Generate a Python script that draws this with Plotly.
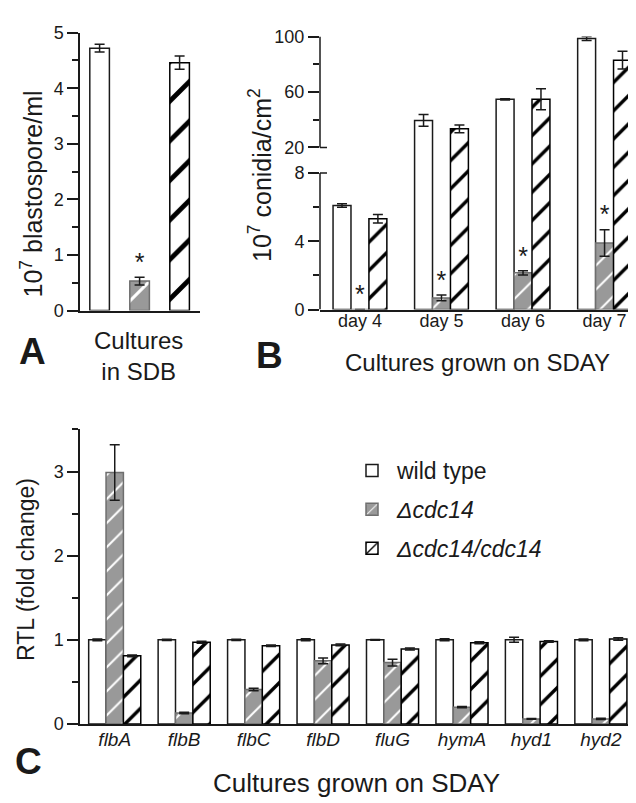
import plotly.graph_objects as go

FONT = "Arial, Liberation Sans, sans-serif"
INK = "#1a1a1a"
W, H = 636, 803

# Panel A: blastospores in SDB (x10^7 / ml)
a_strains = ["wild type", "Δcdc14", "Δcdc14/cdc14"]
a_mean = [4.72, 0.53, 4.46]
a_err = [0.07, 0.07, 0.12]
a_sig = [False, True, False]

# Panel B: conidia on SDAY (x10^7 / cm2), broken y axis 8 -> 20
b_days = ["day 4", "day 5", "day 6", "day 7"]
b_wt = [6.1, 39.5, 54.7, 98.6]
b_wt_err = [0.1, 4.3, 0.4, 1.4]
b_del = [0.0, 0.68, 2.15, 3.9]
b_del_err = [0.0, 0.17, 0.12, 0.78]
b_comp = [5.32, 33.4, 54.7, 82.9]
b_comp_err = [0.25, 2.8, 7.6, 6.4]
b_sig = [True, True, True, True]
b_ticks = [0, 4, 8, 20, 60, 100]
b_minor = [2, 6, 40, 80]

# Panel C: relative transcript levels
c_genes = ["flbA", "flbB", "flbC", "flbD", "fluG", "hymA", "hyd1", "hyd2"]
c_wt = [1.0, 1.0, 1.0, 1.0, 1.0, 1.0, 1.0, 1.0]
c_wt_err = [0.01, 0.008, 0.008, 0.012, 0.005, 0.012, 0.03, 0.01]
c_del = [2.99, 0.13, 0.41, 0.75, 0.73, 0.20, 0.06, 0.06]
c_del_err = [0.33, 0.01, 0.015, 0.035, 0.04, 0.008, 0.005, 0.008]
c_comp = [0.81, 0.97, 0.93, 0.94, 0.89, 0.965, 0.98, 1.01]
c_comp_err = [0.01, 0.012, 0.008, 0.01, 0.012, 0.012, 0.008, 0.015]

LEGEND_NAMES = ["wild type", "<i>Δcdc14</i>", "<i>Δcdc14/cdc14</i>"]

# broken axis for panel B: 0-8 linear, then 20-100 compressed
LOW_TOP, UP_START, UP_SCALE = 8.0, 9.5, 6.5 / 80.0


def brk(v):
    return v if v <= LOW_TOP else UP_START + (v - 20.0) * UP_SCALE


def brk_err(v, e):
    return e if v <= LOW_TOP else e * UP_SCALE


def style(kind, size):
    if kind == 0:
        return dict(color="white", opacity=1, line=dict(color=INK, width=1.5))
    if kind == 1:
        return dict(color="#999999", opacity=1, line=dict(color="#6e6e6e", width=1.5),
                    pattern=dict(shape="/", fgcolor="#ffffff", bgcolor="#999999",
                                 fgopacity=1, size=size - 3, solidity=0.12))
    return dict(color="white", opacity=1, line=dict(color="#000000", width=1.5),
                pattern=dict(shape="/", fgcolor="#000000", bgcolor="#ffffff",
                             fgopacity=1, size=size, solidity=0.17))


def bars(x, y, err, kind, width, offset, ax, size, legend=False):
    return go.Bar(
        x=x, y=y, width=width, offset=offset,
        xaxis="x" + ax, yaxis="y" + ax,
        name=LEGEND_NAMES[kind], legendgroup=str(kind), showlegend=legend,
        marker=style(kind, size),
        error_y=dict(type="data", array=err, visible=True, color=INK,
                     thickness=1.5, width=5),
        hoverinfo="skip",
    )


def stars(x, tops, flags, ax):
    xs = [xi for xi, f in zip(x, flags) if f]
    ys = [t for t, f in zip(tops, flags) if f]
    return go.Scatter(x=xs, y=ys, mode="text", text=["*"] * len(xs),
                      textposition="top center", textfont=dict(size=25, color=INK),
                      xaxis="x" + ax, yaxis="y" + ax, showlegend=False, hoverinfo="skip")


fig = go.Figure()

# ---- A
for i in range(3):
    fig.add_trace(bars([i], [a_mean[i]], [a_err[i]], i, 0.49, -0.245, "", 28))
fig.add_trace(stars([0, 1, 2], [m + e for m, e in zip(a_mean, a_err)], a_sig, ""))

# ---- B
bx = list(range(len(b_days)))
b_series = [(b_wt, b_wt_err), (b_del, b_del_err), (b_comp, b_comp_err)]
for k, (vals, errs) in enumerate(b_series):
    fig.add_trace(bars(bx, [brk(v) for v in vals],
                       [brk_err(v, e) for v, e in zip(vals, errs)],
                       k, 0.22, -0.33 + 0.22 * k, "2", 20))
fig.add_trace(stars(bx, [brk(v) + brk_err(v, e) for v, e in zip(b_del, b_del_err)],
                    b_sig, "2"))

# ---- C
cx = list(range(len(c_genes)))
c_series = [(c_wt, c_wt_err), (c_del, c_del_err), (c_comp, c_comp_err)]
for k, (vals, errs) in enumerate(c_series):
    fig.add_trace(bars(cx, vals, errs, k, 0.25, -0.375 + 0.25 * k, "3", 20, legend=True))

axis_common = dict(showline=True, linecolor=INK, linewidth=1.5, showgrid=False,
                   zeroline=False, tickcolor=INK, tickwidth=1.5, ticklen=11,
                   tickfont=dict(size=18, color=INK, family=FONT), fixedrange=True)


def px_x(a, b):
    return [a / W, b / W]


def px_y(top, bottom):
    return [1 - bottom / H, 1 - top / H]


fig.update_layout(
    xaxis=dict(axis_common, domain=px_x(72, 192), anchor="y", range=[-0.49, 2.51],
               showticklabels=False, ticks=""),
    yaxis=dict(axis_common, domain=px_y(15, 300), anchor="x", range=[0, 5],
               tick0=0, dtick=1, ticks="outside",
               minor=dict(dtick=0.5, ticks="outside", ticklen=6, tickwidth=1.5, tickcolor=INK)),
    xaxis2=dict(axis_common, domain=px_x(312, 630), anchor="y2", range=[-0.49, 3.41],
                tickmode="array", tickvals=bx, ticktext=b_days, ticks="",
                ticklabelstandoff=-6),
    yaxis2=dict(axis_common, domain=px_y(19, 299), anchor="x2", range=[0, 16],
                showline=False, ticks="outside", tickmode="array",
                tickvals=[brk(v) for v in b_ticks], ticktext=[str(v) for v in b_ticks],
                minor=dict(tickmode="array", tickvals=[brk(v) for v in b_minor],
                           ticks="outside", ticklen=6, tickwidth=1.5, tickcolor=INK)),
    xaxis3=dict(axis_common, domain=px_x(72, 629), anchor="y3", range=[-0.5, 7.52],
                tickmode="array", tickvals=cx, ticktext=[f"<i>{g}</i>" for g in c_genes],
                ticks="", ticklabelstandoff=-3,
                tickfont=dict(size=19, color=INK, family=FONT)),
    yaxis3=dict(axis_common, domain=px_y(422, 724), anchor="x3", range=[0, 3.5],
                tick0=0, dtick=1, ticks="outside",
                minor=dict(dtick=0.5, ticks="outside", ticklen=6, tickwidth=1.5, tickcolor=INK)),
)

# broken axis line for B
for y0, y1 in [(0, LOW_TOP), (UP_START, 16)]:
    fig.add_shape(type="line", xref="x2 domain", yref="y2", x0=0, x1=0, y0=y0, y1=y1,
                  line=dict(color=INK, width=1.5))
for yb in [LOW_TOP, UP_START]:
    fig.add_shape(type="line", xref="x2 domain", yref="y2", x0=0, x1=7 / 318, y0=yb, y1=yb,
                  line=dict(color=INK, width=1.5))


def note(text, x, y, size, angle=0, bold=False):
    fig.add_annotation(text=f"<b>{text}</b>" if bold else text, x=x / W, y=1 - y / H,
                       xref="paper", yref="paper", showarrow=False, textangle=angle,
                       xanchor="center", yanchor="middle",
                       font=dict(size=size, color=INK, family=FONT))


note("A", 24, 342, 37, bold=True)
note("B", 261, 346, 37, bold=True)
note("C", 20, 763, 37, bold=True)
note("Cultures<br>in SDB", 130, 347, 24)
note("Cultures grown on SDAY", 469, 353, 24)
note("Cultures grown on SDAY", 348, 785, 26)
note("10<sup>7</sup> blastospore/ml", 24, 181, 25, angle=-90)
note("10<sup>7</sup> conidia/cm<sup>2</sup>", 252, 161, 25, angle=-90)
note("RTL (fold change)", 18, 566, 23, angle=-90)

fig.update_layout(
    width=W, height=H, margin=dict(l=0, r=0, t=0, b=0),
    paper_bgcolor="white", plot_bgcolor="white",
    font=dict(family=FONT, color=INK, size=18),
    barmode="group",
    legend=dict(x=339 / W, y=1 - 442 / H, xanchor="left", yanchor="top",
                font=dict(size=23, color=INK, family=FONT), bgcolor="rgba(0,0,0,0)",
                traceorder="grouped", tracegroupgap=6, itemwidth=40),
)

fig.write_html("out.html")
